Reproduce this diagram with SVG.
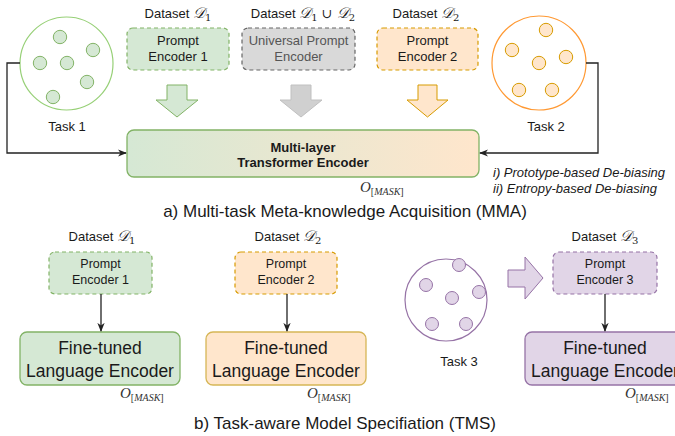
<svg xmlns="http://www.w3.org/2000/svg" width="675" height="436" viewBox="0 0 675 436">
<style>
text{font-family:"Liberation Sans",Arial,sans-serif;fill:#1a1a1a}
.ds{font-size:13px;text-anchor:middle}
.m{font-family:"DejaVu Serif","Liberation Serif",serif}
.pe{font-size:13px;text-anchor:middle}
.pe2{font-size:12.5px;text-anchor:middle}
.ft{font-size:17.5px;text-anchor:middle}
.cap{font-size:17px;text-anchor:middle}
.o{font-family:"Liberation Serif",serif;font-style:italic;font-size:15px;fill:#333}
.g{fill:#d5e8d4;stroke:#82b366}
.or{fill:#ffe6cc;stroke:#d79b00}
.pu{fill:#e1d5e7;stroke:#9673a6}
.gr{fill:#d9d9d9;stroke:#666}
.dash{stroke-dasharray:4 3;stroke-width:1.2}
.conn{fill:none;stroke:#222;stroke-width:1.3}
</style>
<defs>
<linearGradient id="tg" x1="0" x2="1" y1="0" y2="0"><stop offset="0" stop-color="#d5e8d4"/><stop offset="1" stop-color="#ffe6cc"/></linearGradient>
<marker id="ah" viewBox="0 0 10 10" refX="9" refY="5" markerWidth="7" markerHeight="7" orient="auto"><path d="M0,1 L10,5 L0,9 L3,5 Z" fill="#222"/></marker>
</defs>

<g id="task1">
<circle cx="66.5" cy="63.5" r="46.5" fill="#fff" stroke="#97d077" stroke-width="1.2"/>
<g class="g"><circle cx="60" cy="37" r="6.7"/><circle cx="93" cy="50" r="6.7"/><circle cx="40" cy="63" r="6.7"/><circle cx="67" cy="63" r="6.7"/><circle cx="87" cy="82" r="6.7"/><circle cx="53" cy="97" r="6.7"/></g>
<text x="67" y="131" font-size="13" text-anchor="middle">Task 1</text>
</g>

<g id="task2">
<circle cx="539" cy="63" r="47" fill="#fff" stroke="#ff9933" stroke-width="1.2"/>
<g class="or"><circle cx="546" cy="30" r="6.7"/><circle cx="512" cy="50" r="6.7"/><circle cx="566" cy="57" r="6.7"/><circle cx="539" cy="63" r="6.7"/><circle cx="519" cy="90" r="6.7"/><circle cx="552" cy="90" r="6.7"/></g>
<text x="546" y="131" font-size="13" text-anchor="middle">Task 2</text>
</g>

<g id="pe1top">
<text class="ds" x="178" y="18">Dataset <tspan class="m" font-style="italic" font-size="15">𝒟</tspan><tspan class="m" font-size="10" dy="3">1</tspan></text>
<rect class="g dash" x="127" y="28" width="102" height="42" rx="6"/>
<text class="pe" x="178" y="45">Prompt</text>
<text class="pe" x="178" y="61">Encoder 1</text>
</g>

<g id="upe">
<text class="ds" x="303" y="18">Dataset <tspan class="m" font-style="italic" font-size="15">𝒟</tspan><tspan class="m" font-size="10" dy="3">1</tspan><tspan class="m" font-size="13" dy="-3"> ∪ </tspan><tspan class="m" font-style="italic" font-size="15">𝒟</tspan><tspan class="m" font-size="10" dy="3">2</tspan></text>
<rect class="gr dash" x="242" y="28" width="113" height="42" rx="6"/>
<text class="pe" x="298.5" y="45" style="fill:#555">Universal Prompt</text>
<text class="pe" x="298.5" y="61" style="fill:#555">Encoder</text>
</g>

<g id="pe2top">
<text class="ds" x="426" y="18">Dataset <tspan class="m" font-style="italic" font-size="15">𝒟</tspan><tspan class="m" font-size="10" dy="3">2</tspan></text>
<rect class="or dash" x="377" y="28" width="101" height="42" rx="6"/>
<text class="pe" x="427.5" y="45">Prompt</text>
<text class="pe" x="427.5" y="61">Encoder 2</text>
</g>

<g id="arrows-top">
<polygon class="g" points="167,85 187,85 187,100 198,100 177,117 156,100 167,100"/>
<polygon points="291,85 311,85 311,100 322,100 301,117 280,100 291,100" fill="#d0d0d0" stroke="#c0c0c0"/>
<polygon class="or" points="418,85 437,85 437,100 448,100 427.5,117 407,100 418,100"/>
</g>

<g id="transformer">
<rect x="127" y="130" width="352" height="47" rx="7" fill="url(#tg)" stroke="#82b366" stroke-width="1.3"/>
<text x="303" y="152" font-size="13" font-weight="bold" text-anchor="middle">Multi-layer</text>
<text x="303" y="167" font-size="13" font-weight="bold" text-anchor="middle">Transformer Encoder</text>
<text class="o" x="360" y="192">O<tspan font-size="10" dy="3" style="font-style:normal">[</tspan><tspan font-size="10">MASK</tspan><tspan font-size="10" style="font-style:normal">]</tspan></text>
</g>

<g id="debias">
<text x="493" y="177" font-size="13" font-style="italic">i) Prototype-based De-biasing</text>
<text x="493" y="193" font-size="13" font-style="italic">ii) Entropy-based De-biasing</text>
</g>

<text class="cap" x="345" y="217">a) Multi-task Meta-knowledge Acquisition (MMA)</text>

<g id="b1">
<text class="ds" x="102" y="241">Dataset <tspan class="m" font-style="italic" font-size="15">𝒟</tspan><tspan class="m" font-size="10" dy="3">1</tspan></text>
<rect class="g dash" x="49" y="252" width="103" height="42" rx="6"/>
<text class="pe2" x="100.5" y="268">Prompt</text>
<text class="pe2" x="100.5" y="284">Encoder 1</text>
<rect class="g" x="20" y="332" width="160" height="53" rx="7" stroke-width="1.3"/>
<text class="ft" x="100" y="354">Fine-tuned</text>
<text class="ft" x="100" y="377">Language Encoder</text>
<text class="o" x="120" y="398">O<tspan font-size="10" dy="3" style="font-style:normal">[</tspan><tspan font-size="10">MASK</tspan><tspan font-size="10" style="font-style:normal">]</tspan></text>
</g>

<g id="b2">
<text class="ds" x="288" y="241">Dataset <tspan class="m" font-style="italic" font-size="15">𝒟</tspan><tspan class="m" font-size="10" dy="3">2</tspan></text>
<rect class="or dash" x="235" y="252" width="102" height="42" rx="6"/>
<text class="pe2" x="286" y="268">Prompt</text>
<text class="pe2" x="286" y="284">Encoder 2</text>
<rect x="206" y="332" width="160" height="53" rx="7" fill="#ffe6cc" stroke="#d6b656" stroke-width="1.3"/>
<text class="ft" x="286" y="354">Fine-tuned</text>
<text class="ft" x="286" y="377">Language Encoder</text>
<text class="o" x="307" y="398">O<tspan font-size="10" dy="3" style="font-style:normal">[</tspan><tspan font-size="10">MASK</tspan><tspan font-size="10" style="font-style:normal">]</tspan></text>
</g>

<g id="task3">
<circle cx="446" cy="300" r="41" fill="#fff" stroke="#9673a6" stroke-width="1.2"/>
<g class="pu"><circle cx="459" cy="265" r="6.5"/><circle cx="426" cy="285" r="6.5"/><circle cx="479" cy="292" r="6.5"/><circle cx="452" cy="298" r="6.5"/><circle cx="432" cy="324" r="6.5"/><circle cx="466" cy="324" r="6.5"/></g>
<text x="459" y="366" font-size="13" text-anchor="middle">Task 3</text>
<polygon class="pu" points="508,270 525,270 525,257 543,278 525,299 525,287 508,287"/>
</g>

<g id="b3">
<text class="ds" x="605" y="241">Dataset <tspan class="m" font-style="italic" font-size="15">𝒟</tspan><tspan class="m" font-size="10" dy="3">3</tspan></text>
<rect class="pu dash" x="553" y="252" width="104" height="42" rx="6"/>
<text class="pe2" x="605" y="268">Prompt</text>
<text class="pe2" x="605" y="284">Encoder 3</text>
<rect class="pu" x="525" y="332" width="160" height="53" rx="7" stroke-width="1.3"/>
<text class="ft" x="605" y="354">Fine-tuned</text>
<text class="ft" x="605" y="377">Language Encoder</text>
<text class="o" x="625" y="398">O<tspan font-size="10" dy="3" style="font-style:normal">[</tspan><tspan font-size="10">MASK</tspan><tspan font-size="10" style="font-style:normal">]</tspan></text>
</g>

<text class="cap" x="345" y="429">b) Task-aware Model Specifiation (TMS)</text>

<g id="connectors">
<path class="conn" d="M20,63 H7 V153 H126" marker-end="url(#ah)"/>
<path class="conn" d="M586,63 H598 V153 H480" marker-end="url(#ah)"/>
<path class="conn" d="M101,294 V331" marker-end="url(#ah)"/>
<path class="conn" d="M287,294 V331" marker-end="url(#ah)"/>
<path class="conn" d="M605,294 V331" marker-end="url(#ah)"/>
</g>
</svg>
